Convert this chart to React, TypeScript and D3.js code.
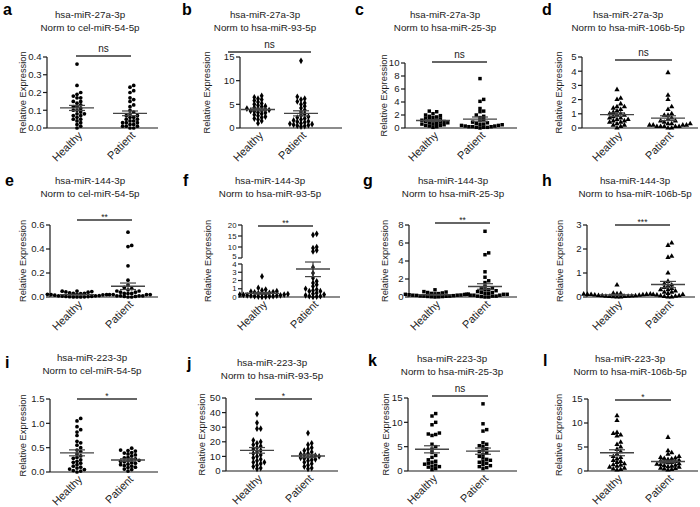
import React, { useEffect, useRef } from 'react';
import * as d3 from 'd3';

// panel text
const letters = ['a', 'b', 'c', 'd', 'e', 'f', 'g', 'h', 'i', 'j', 'k', 'l'];
const targets = ['hsa-miR-27a-3p', 'hsa-miR-144-3p', 'hsa-miR-223-3p'];
const norms = ['cel-miR-54-5p', 'hsa-miR-93-5p', 'hsa-miR-25-3p', 'hsa-miR-106b-5p'];
const sigLabels = ['ns', 'ns', 'ns', 'ns', '**', '**', '**', '***', '*', '*', 'ns', '*'];
const groups = ['Healthy', 'Patient'];
const shapes = ['circle', 'diamond', 'square', 'triangle'];

// y ticks
const ticksA = [0, 0.1, 0.2, 0.3, 0.4];
const ticksB = [0, 5, 10, 15];
const ticksC = [0, 2, 4, 6, 8, 10];
const ticksD = [0, 1, 2, 3, 4, 5];
const ticksE = [0, 0.2, 0.4, 0.6];
const ticksFLow = [0, 1, 2, 3, 4];
const ticksFHigh = [5, 10, 15, 20];
const ticksG = [0, 2, 4, 6, 8];
const ticksH = [0, 1, 2, 3];
const ticksI = [0, 0.5, 1.0, 1.5];
const ticksJ = [0, 10, 20, 30, 40, 50];
const ticksK = [0, 5, 10, 15];
const ticksL = [0, 5, 10, 15];

// values
const healthyA = [0.36, 0.24, 0.20, 0.19, 0.18, 0.17, 0.17, 0.15, 0.15, 0.14, 0.13, 0.12, 0.12, 0.11, 0.10, 0.10, 0.09, 0.08, 0.08, 0.07, 0.07, 0.06, 0.05, 0.05, 0.04, 0.03, 0.02, 0.01, 0.00];
const patientA = [0.24, 0.23, 0.21, 0.20, 0.17, 0.16, 0.15, 0.13, 0.12, 0.10, 0.09, 0.08, 0.07, 0.07, 0.06, 0.06, 0.05, 0.05, 0.04, 0.04, 0.03, 0.03, 0.03, 0.02, 0.02, 0.01, 0.01, 0.01, 0.00, 0.00];
const healthyB = [6.8, 6.5, 6.2, 6.0, 5.8, 5.5, 5.2, 5.0, 4.8, 4.6, 4.5, 4.3, 4.1, 4.0, 3.9, 3.8, 3.7, 3.6, 3.5, 3.3, 3.2, 3.0, 2.8, 2.6, 2.4, 2.2, 2.0, 1.8, 1.5, 1.0];
const patientB = [14.2, 6.6, 6.2, 6.0, 5.6, 5.3, 5.0, 4.6, 4.2, 3.8, 3.4, 3.0, 2.7, 2.4, 2.2, 2.0, 1.8, 1.6, 1.4, 1.3, 1.2, 1.0, 0.9, 0.8, 0.7, 0.6, 0.5, 0.4, 0.3];
const healthyC = [2.6, 2.5, 2.2, 2.0, 1.9, 1.8, 1.7, 1.6, 1.5, 1.4, 1.3, 1.2, 1.2, 1.1, 1.0, 1.0, 0.9, 0.8, 0.8, 0.7, 0.6, 0.6, 0.5, 0.4, 0.4, 0.3, 0.2, 0.1];
const patientC = [7.6, 4.4, 4.1, 3.0, 2.6, 2.5, 2.0, 1.8, 1.6, 1.3, 1.1, 0.9, 0.8, 0.7, 0.6, 0.5, 0.5, 0.4, 0.4, 0.3, 0.3, 0.2, 0.2, 0.2, 0.1, 0.1, 0.1, 0.0];
const healthyD = [2.7, 2.1, 2.0, 1.7, 1.5, 1.5, 1.4, 1.3, 1.2, 1.1, 1.0, 1.0, 0.9, 0.9, 0.8, 0.7, 0.7, 0.6, 0.6, 0.5, 0.5, 0.4, 0.4, 0.3, 0.2, 0.2, 0.1, 0.0];
const patientD = [3.9, 2.3, 2.0, 1.5, 1.3, 1.0, 0.9, 0.9, 0.7, 0.6, 0.5, 0.5, 0.4, 0.3, 0.3, 0.3, 0.2, 0.2, 0.2, 0.2, 0.1, 0.1, 0.1, 0.1, 0.1, 0.0, 0.0];
const healthyE = [0.05, 0.048, 0.045, 0.042, 0.04, 0.035, 0.03, 0.03, 0.028, 0.025, 0.022, 0.02, 0.02, 0.018, 0.015, 0.012, 0.01, 0.01, 0.008, 0.006, 0.005, 0.004, 0.003, 0.002, 0.001, 0.0, 0.0];
const patientE = [0.54, 0.43, 0.42, 0.26, 0.14, 0.10, 0.08, 0.07, 0.06, 0.05, 0.05, 0.04, 0.04, 0.03, 0.03, 0.03, 0.02, 0.02, 0.02, 0.02, 0.01, 0.01, 0.01, 0.01, 0.005, 0.005, 0.0, 0.0];
const healthyF = [2.5, 1.1, 0.9, 0.8, 0.7, 0.65, 0.6, 0.55, 0.5, 0.45, 0.4, 0.4, 0.35, 0.3, 0.3, 0.25, 0.2, 0.2, 0.15, 0.15, 0.1, 0.1, 0.08, 0.05, 0.03, 0.0];
const patientF = [16, 15.5, 10, 9.5, 8.5, 8.0, 3.6, 2.9, 2.3, 1.9, 1.7, 1.5, 1.3, 1.0, 0.9, 0.8, 0.7, 0.7, 0.5, 0.4, 0.3, 0.2, 0.1, 0.1, 0.05, 0.0];
const healthyG = [0.8, 0.6, 0.55, 0.5, 0.45, 0.4, 0.38, 0.35, 0.32, 0.3, 0.28, 0.25, 0.22, 0.2, 0.2, 0.18, 0.15, 0.12, 0.1, 0.1, 0.08, 0.06, 0.05, 0.03, 0.02, 0.0];
const patientG = [7.3, 4.9, 4.7, 2.8, 2.2, 1.8, 1.6, 1.2, 1.0, 0.9, 0.8, 0.8, 0.7, 0.6, 0.5, 0.5, 0.4, 0.4, 0.3, 0.3, 0.3, 0.2, 0.2, 0.2, 0.1, 0.1, 0.1, 0.05, 0.0, 0.0];
const healthyH = [0.5, 0.15, 0.14, 0.13, 0.12, 0.12, 0.11, 0.11, 0.1, 0.09, 0.08, 0.07, 0.06, 0.05, 0.05, 0.04, 0.03, 0.03, 0.02, 0.02, 0.01, 0.0, 0.0];
const patientH = [2.25, 2.15, 1.7, 1.65, 1.0, 0.65, 0.55, 0.5, 0.45, 0.4, 0.35, 0.3, 0.3, 0.25, 0.2, 0.2, 0.15, 0.1, 0.1, 0.08, 0.05, 0.05, 0.03, 0.02, 0.0, 0.0];
const healthyI = [1.1, 1.05, 0.93, 0.87, 0.82, 0.75, 0.63, 0.6, 0.55, 0.5, 0.45, 0.42, 0.37, 0.33, 0.3, 0.28, 0.25, 0.22, 0.2, 0.18, 0.15, 0.12, 0.1, 0.08, 0.06, 0.05, 0.03, 0.02, 0.0];
const patientI = [0.49, 0.45, 0.44, 0.43, 0.40, 0.39, 0.37, 0.35, 0.33, 0.30, 0.29, 0.27, 0.26, 0.24, 0.23, 0.22, 0.21, 0.19, 0.18, 0.16, 0.15, 0.13, 0.12, 0.10, 0.09, 0.06, 0.05, 0.02];
const healthyJ = [39, 33, 29, 29, 21, 20, 19, 18, 17, 16, 15, 14, 13, 12, 11, 10, 9, 8, 7, 6, 6, 5, 4, 3, 2, 1.5];
const patientJ = [26, 19, 18, 16, 15, 14, 13, 12, 11.5, 11, 10.5, 10, 10, 9.5, 9, 8.5, 8, 7.5, 7, 6, 5, 4, 3, 2, 1.5];
const healthyK = [11.8, 11.3, 10.0, 9.5, 7.8, 7.6, 7.5, 7.3, 5.5, 5.0, 4.5, 3.8, 3.2, 2.8, 2.3, 2.0, 1.8, 1.6, 1.4, 1.2, 1.0, 0.9, 0.8, 0.5, 0.3];
const patientK = [13.8, 9.7, 8.5, 8.2, 5.8, 5.5, 5.2, 5.0, 4.6, 4.3, 4.0, 3.7, 3.4, 3.0, 2.7, 2.4, 2.2, 2.0, 1.8, 1.6, 1.3, 1.1, 0.9, 0.7, 0.5];
const healthyL = [11.5, 10.5, 8.0, 7.8, 7.5, 7.3, 6.0, 5.5, 5.0, 4.5, 4.0, 3.5, 3.0, 2.8, 2.5, 2.2, 2.0, 1.8, 1.5, 1.3, 1.2, 1.0, 0.8, 0.6, 0.4, 0.3, 0.2];
const patientL = [7.0, 4.2, 3.8, 3.5, 3.0, 2.8, 2.7, 2.6, 2.5, 2.4, 2.2, 2.1, 2.0, 1.9, 1.8, 1.7, 1.5, 1.4, 1.3, 1.2, 1.1, 1.0, 0.9, 0.8, 0.6, 0.5, 0.4, 0.3, 0.2];

const healthy = [healthyA, healthyB, healthyC, healthyD, healthyE, healthyF, healthyG, healthyH, healthyI, healthyJ, healthyK, healthyL];
const patient = [patientA, patientB, patientC, patientD, patientE, patientF, patientG, patientH, patientI, patientJ, patientK, patientL];
const ticks = [ticksA, ticksB, ticksC, ticksD, ticksE, null, ticksG, ticksH, ticksI, ticksJ, ticksK, ticksL];

// where each panel sits on the page
const layout = [
  { lx: 3, ly: 15, tx: 90, ty: 18, ax: 47, top: 57, bot: 128, xEnd: 158, hx: 77, px: 130, sy: 56, s1: 76, s2: 131, ylx: 22 },
  { lx: 182, ly: 15, tx: 265, ty: 18, ax: 240, top: 57, bot: 128, xEnd: 342, hx: 258, px: 301, sy: 52, s1: 228, s2: 311, ylx: 206 },
  { lx: 355, ly: 15, tx: 445, ty: 18, ax: 405, top: 63, bot: 128, xEnd: 517, hx: 433, px: 480, sy: 62, s1: 432, s2: 487, ylx: 383 },
  { lx: 542, ly: 15, tx: 628, ty: 18, ax: 582, top: 57, bot: 128, xEnd: 698, hx: 617, px: 668, sy: 60, s1: 615, s2: 672, ylx: 558 },
  { lx: 5, ly: 186, tx: 90, ty: 184, ax: 50, top: 225, bot: 297, xEnd: 158, hx: 77, px: 128, sy: 220, s1: 77, s2: 132, ylx: 22 },
  { lx: 183, ly: 186, tx: 270, ty: 184, ax: 242, top: 225, bot: 297, xEnd: 340, hx: 262, px: 313, sy: 226, s1: 258, s2: 313, ylx: 207 },
  { lx: 363, ly: 186, tx: 453, ty: 184, ax: 409, top: 225, bot: 297, xEnd: 517, hx: 435, px: 485, sy: 223, s1: 435, s2: 490, ylx: 384 },
  { lx: 542, ly: 186, tx: 635, ty: 184, ax: 587, top: 225, bot: 297, xEnd: 695, hx: 617, px: 668, sy: 225, s1: 615, s2: 670, ylx: 559 },
  { lx: 5, ly: 368, tx: 92, ty: 361, ax: 50, top: 399, bot: 472, xEnd: 158, hx: 77, px: 128, sy: 399, s1: 77, s2: 137, ylx: 22 },
  { lx: 187, ly: 369, tx: 272, ty: 366, ax: 226, top: 398, bot: 471, xEnd: 338, hx: 257, px: 308, sy: 399, s1: 255, s2: 312, ylx: 201 },
  { lx: 368, ly: 366, tx: 452, ty: 362, ax: 408, top: 398, bot: 471, xEnd: 517, hx: 432, px: 483, sy: 396, s1: 432, s2: 488, ylx: 385 },
  { lx: 543, ly: 366, tx: 630, ty: 362, ax: 588, top: 399, bot: 471, xEnd: 698, hx: 617, px: 668, sy: 400, s1: 615, s2: 671, ylx: 558 },
];

const FONT = '"Liberation Sans", Arial, sans-serif';
const INK = '#1a1a1a';

const symbolTypes: Record<string, d3.SymbolType> = {
  circle: d3.symbolCircle,
  diamond: d3.symbolDiamond,
  square: d3.symbolSquare,
  triangle: d3.symbolTriangle,
};
const symbolSizes: Record<string, number> = { circle: 11, diamond: 13, square: 12, triangle: 12 };

// simple beeswarm: push a point sideways while it hits an already placed one
function swarm(vals: number[], y: (v: number) => number, cx: number, step: number, stepY: number) {
  const placed: { x: number; y: number }[] = [];
  [...vals].sort((a, b) => a - b).forEach(v => {
    const py = y(v);
    for (let k = 0; k < 60; k++) {
      const off = k === 0 ? 0 : Math.ceil(k / 2) * step * (k % 2 ? 1 : -1);
      const px = cx + off;
      const hit = placed.some(p => Math.abs(p.x - px) < step - 0.01 && Math.abs(p.y - py) < stepY);
      if (!hit) {
        placed.push({ x: px, y: py });
        break;
      }
    }
  });
  return placed;
}

const App = () => {
  const ref = useRef<SVGSVGElement>(null);

  useEffect(() => {
    const svg = d3.select(ref.current);
    svg.selectAll('*').remove();

    layout.forEach((L, i) => {
      const g = svg.append('g').attr('font-family', FONT);
      const shape = shapes[i % 4];
      const broken = i === 5;

      // y scale (panel f has a broken axis)
      const tk = ticks[i] as number[] | null;
      const y = broken
        ? d3.scaleLinear().domain([0, 4, 5, 20]).range([L.bot, L.bot - 33, L.bot - 39, L.top])
        : d3.scaleLinear().domain([0, tk![tk!.length - 1]]).range([L.bot, L.top]);

      // letter + titles
      g.append('text').attr('x', L.lx).attr('y', L.ly).attr('font-size', 16).attr('font-weight', 'bold')
        .attr('fill', '#000').text(letters[i]);
      g.append('text').attr('x', L.tx).attr('y', L.ty).attr('text-anchor', 'middle').attr('font-size', 9.8)
        .attr('fill', INK).text(targets[Math.floor(i / 4)]);
      g.append('text').attr('x', L.tx).attr('y', L.ty + 12.5).attr('text-anchor', 'middle').attr('font-size', 9.8)
        .attr('fill', INK).text(`Norm to ${norms[i % 4]}`);

      // y axis label
      const midY = (L.top + L.bot) / 2;
      g.append('text').attr('transform', `translate(${L.ylx + 3.5},${midY}) rotate(-90)`)
        .attr('text-anchor', 'middle').attr('font-size', 9.3).attr('fill', INK).text('Relative Expression');

      // y axis
      const fmt = (v: number) => (tk && tk[tk.length - 1] < 2 ? d3.format('.1f')(v) : String(v));
      const drawAxis = (vals: number[], y0: number, y1: number, size: number, nudge: number) => {
        g.append('line').attr('x1', L.ax).attr('x2', L.ax).attr('y1', y0).attr('y2', y1)
          .attr('stroke', INK).attr('stroke-width', 1.2);
        vals.forEach((v, k) => {
          g.append('line').attr('x1', L.ax - 4).attr('x2', L.ax).attr('y1', y(v)).attr('y2', y(v))
            .attr('stroke', INK).attr('stroke-width', 1.2);
          const edge = nudge * (k === 0 ? -1 : 0);
          g.append('text').attr('x', L.ax - 5.5).attr('y', y(v) + edge).attr('dy', '0.35em').attr('text-anchor', 'end')
            .attr('font-size', size).attr('fill', INK).text(fmt(v));
        });
      };
      if (broken) {
        drawAxis(ticksFLow, y(0), y(4), 7.8, 0);
        drawAxis(ticksFHigh, y(5), y(20), 7.8, 1.5);
      } else {
        drawAxis(tk!, L.bot, L.top, 9.6, 0);
      }

      // x axis
      g.append('line').attr('x1', L.ax).attr('x2', L.xEnd).attr('y1', L.bot).attr('y2', L.bot)
        .attr('stroke', INK).attr('stroke-width', 1.2);
      [L.hx, L.px].forEach((cx, gi) => {
        g.append('text').attr('transform', `translate(${cx + 6},${L.bot + 8}) rotate(-45)`)
          .attr('text-anchor', 'end').attr('font-size', 11).attr('fill', INK).text(groups[gi]);
      });

      // dots, mean and SEM
      [healthy[i], patient[i]].forEach((vals, gi) => {
        const cx = gi === 0 ? L.hx : L.px;
        const pts = swarm(vals, y, cx, 3.7, 3.0);
        const sym = d3.symbol().type(symbolTypes[shape]).size(symbolSizes[shape]);
        g.append('g').selectAll('path').data(pts).enter().append('path')
          .attr('transform', d => `translate(${d.x},${d.y})`)
          .attr('d', sym as any).attr('fill', '#000');

        const m = d3.mean(vals)!;
        const sem = d3.deviation(vals)! / Math.sqrt(vals.length);
        const stroke = '#444';
        g.append('line').attr('x1', cx - 17).attr('x2', cx + 17).attr('y1', y(m)).attr('y2', y(m))
          .attr('stroke', stroke).attr('stroke-width', 1.4);
        g.append('line').attr('x1', cx).attr('x2', cx).attr('y1', y(m - sem)).attr('y2', y(m + sem))
          .attr('stroke', stroke).attr('stroke-width', 1.2);
        [m - sem, m + sem].forEach(v => {
          g.append('line').attr('x1', cx - 8).attr('x2', cx + 8).attr('y1', y(v)).attr('y2', y(v))
            .attr('stroke', stroke).attr('stroke-width', 1.2);
        });
      });

      // significance bar
      g.append('line').attr('x1', L.s1).attr('x2', L.s2).attr('y1', L.sy).attr('y2', L.sy)
        .attr('stroke', '#333').attr('stroke-width', 1.4);
      const isNs = sigLabels[i] === 'ns';
      g.append('text').attr('x', (L.s1 + L.s2) / 2).attr('y', isNs ? L.sy - 4 : L.sy - 0.5)
        .attr('text-anchor', 'middle').attr('font-size', isNs ? 10 : 8.5).attr('fill', INK).text(sigLabels[i]);
    });
  }, []);

  return (
    <svg ref={ref} width={700} height={507}
      style={{ position: 'absolute', left: 0, top: 0, background: '#fff' }} />
  );
};

export default App;
